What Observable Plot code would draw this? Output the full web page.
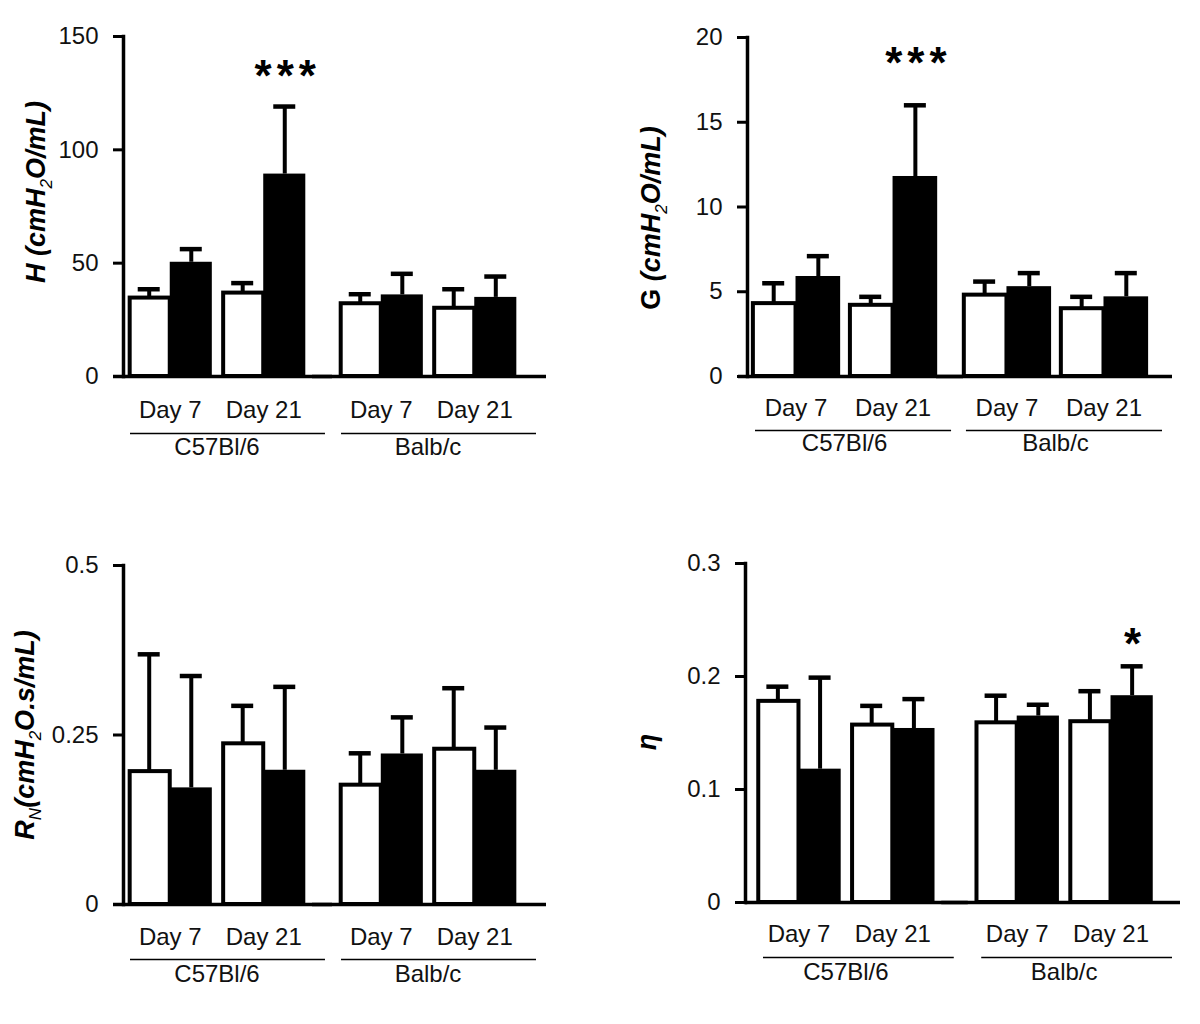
<!DOCTYPE html>
<html><head><meta charset="utf-8">
<script src="https://cdn.jsdelivr.net/npm/d3@7"></script>
<script src="https://cdn.jsdelivr.net/npm/@observablehq/plot@0.6"></script>
<style>
body{margin:0;background:#fff;}
#chart{position:relative;width:1200px;height:1024px;font-family:"Liberation Sans",Arial,sans-serif;}
.panel{position:absolute;}
</style></head><body><div id="chart"></div>
<script>
const strains = ["C57Bl/6", "Balb/c"];
const days = ["Day 7", "Day 21"];
// order of values: C57Bl/6 Day 7, C57Bl/6 Day 21, Balb/c Day 7, Balb/c Day 21
const hControl = [34.6, 36.8, 32.1, 30.1];
const hControlErr = [3.9, 4.4, 4.2, 8.4];
const hTreated = [50.4, 89.3, 36.0, 34.9];
const hTreatedErr = [5.8, 29.8, 9.3, 9.2];
const hSig = ["", "***", "", ""];
const hTicks = [0, 50, 100, 150];

const gControl = [4.3, 4.2, 4.8, 4.0];
const gControlErr = [1.2, 0.5, 0.8, 0.7];
const gTreated = [5.9, 11.8, 5.3, 4.7];
const gTreatedErr = [1.2, 4.2, 0.8, 1.4];
const gSig = ["", "***", "", ""];
const gTicks = [0, 5, 10, 15, 20];

const rControl = [0.196, 0.237, 0.176, 0.229];
const rControlErr = [0.173, 0.056, 0.047, 0.090];
const rTreated = [0.172, 0.198, 0.222, 0.198];
const rTreatedErr = [0.165, 0.123, 0.054, 0.063];
const rSig = ["", "", "", ""];
const rTicks = [0, 0.25, 0.5];

const eControl = [0.178, 0.157, 0.159, 0.160];
const eControlErr = [0.013, 0.017, 0.024, 0.027];
const eTreated = [0.118, 0.154, 0.165, 0.183];
const eTreatedErr = [0.081, 0.026, 0.010, 0.026];
const eSig = ["", "", "", "*"];
const eTicks = [0, 0.1, 0.2, 0.3];

const hLabel = [{t: "H (cmH", i: true}, {t: "2", i: true, sub: true}, {t: "O/mL)", i: true}];
const gLabel = [{t: "G ", i: false}, {t: "(cmH", i: true}, {t: "2", i: true, sub: true}, {t: "O/mL)", i: true}];
const rLabel = [{t: "R", i: true}, {t: "N", i: true, sub: true}, {t: "(cmH", i: true}, {t: "2", i: true, sub: true}, {t: "O.s/mL)", i: true}];
const eLabel = [{t: "η", i: true}];

function buildRows(c, ce, t, te, sig) {
  const out = [];
  let k = 0;
  for (const s of strains) for (const d of days) {
    out.push({strain: s, day: d, control: c[k], controlErr: ce[k], treated: t[k], treatedErr: te[k], sig: sig[k]});
    k++;
  }
  return out;
}

const panels = [
  {rows: buildRows(hControl, hControlErr, hTreated, hTreatedErr, hSig), ticks: hTicks, domain: [0, 150], label: hLabel,
   left: 0, top: 0, mL: 123, mR: 79, mT: 36, mB: 136, fxPad: 0.114, xIn: 0.1, xOut: 0.05,
   lx: 45, ly: 192, starDy: -30, underDy: 57, strainDy: 78, dayPad: 24, baseL: 10, baseR: 25, ulL: 7, ulR: -15},
  {rows: buildRows(gControl, gControlErr, gTreated, gTreatedErr, gSig), ticks: gTicks, domain: [0, 20], label: gLabel,
   left: 600, top: 0, mL: 147, mR: 48, mT: 37, mB: 136, fxPad: 0.08, xIn: 0.08, xOut: 0.04,
   lx: 60, ly: 218, starDy: -41, underDy: 54, strainDy: 74, dayPad: 22, baseL: 9, baseR: 20, ulL: 8, ulR: -10},
  {rows: buildRows(rControl, rControlErr, rTreated, rTreatedErr, rSig), ticks: rTicks, domain: [0, 0.5], label: rLabel,
   left: 0, top: 512, mL: 123, mR: 79, mT: 53, mB: 120, fxPad: 0.114, xIn: 0.1, xOut: 0.05,
   lx: 34, ly: 223, starDy: -30, underDy: 55, strainDy: 77, dayPad: 23, baseL: 10, baseR: 25, ulL: 7, ulR: -15},
  {rows: buildRows(eControl, eControlErr, eTreated, eTreatedErr, eSig), ticks: eTicks, domain: [0, 0.3], label: eLabel,
   left: 600, top: 512, mL: 145, mR: 36, mT: 51, mB: 122, fxPad: 0.08, xIn: 0.1, xOut: 0.12,
   lx: 56, ly: 230, starDy: -21, underDy: 55, strainDy: 77, dayPad: 22, baseL: 0, baseR: 16, ulL: 18, ulR: -8}
];

const chart = document.getElementById("chart");
const font = "'Liberation Sans', Arial, sans-serif";

for (const cfg of panels) {
  const rows = cfg.rows;
  const base = {
    width: 600, height: 512,
    marginLeft: cfg.mL, marginRight: cfg.mR, marginTop: cfg.mT, marginBottom: cfg.mB,
    fx: {domain: strains, paddingInner: cfg.fxPad, paddingOuter: 0, axis: null, round: false},
    x: {domain: days, paddingInner: cfg.xIn, paddingOuter: cfg.xOut, round: false},
    y: {domain: cfg.domain}
  };
  const probe = Plot.plot({...base, marks: [Plot.barY(rows, {fx: "strain", x: "day", y: "control"}), Plot.axisX({label: null}), Plot.axisY({label: null})]});
  const bw = probe.scale("x").bandwidth;
  const half = bw / 2, q = bw / 4, cap = 11;
  const cUp = d => d.control + d.controlErr;
  const tUp = d => d.treated + d.treatedErr;
  const plot = Plot.plot({
    ...base,
    style: {fontFamily: font, fontSize: "24px", color: "#000", background: "transparent"},
    marks: [
      Plot.ruleX(rows, {fx: "strain", x: "day", y1: "control", y2: cUp, dx: -q, stroke: "#000", strokeWidth: 4}),
      Plot.ruleX(rows, {fx: "strain", x: "day", y1: "treated", y2: tUp, dx: q, stroke: "#000", strokeWidth: 4}),
      Plot.barY(rows, {fx: "strain", x: "day", y: "treated", fill: "#000", insetLeft: half}),
      Plot.barY(rows, {fx: "strain", x: "day", y: "control", fill: "#fff", stroke: "#000", strokeWidth: 4, insetLeft: 2, insetRight: half}),
      Plot.tickY(rows, {fx: "strain", x: "day", y: cUp, insetLeft: q - cap, insetRight: half + q - cap, stroke: "#000", strokeWidth: 4.5}),
      Plot.tickY(rows, {fx: "strain", x: "day", y: tUp, insetLeft: half + q - cap, insetRight: q - cap, stroke: "#000", strokeWidth: 4.5}),
      Plot.text(rows.filter(d => d.sig), {fx: "strain", x: "day", y: tUp, dx: q + 3, dy: cfg.starDy, text: "sig", fontSize: 44, fontWeight: "bold", fill: "#000"}),
      Plot.axisY({ticks: cfg.ticks, tickFormat: d => String(d), tickSize: 10, tickPadding: 15, strokeWidth: 3, fontSize: 24, label: null, fill: "#111"}),
      Plot.axisX({tickSize: 0, tickPadding: cfg.dayPad, fontSize: 24, label: null, fill: "#111"}),
      Plot.frame({anchor: "left", facetAnchor: "left", stroke: "#000", strokeWidth: 3.5}),
      Plot.ruleY([strains[0]], {fx: d => d, y: 0, insetLeft: -cfg.baseL, insetRight: -22, stroke: "#000", strokeWidth: 3.5}),
      Plot.ruleY([strains[1]], {fx: d => d, y: 0, insetLeft: -22, insetRight: -cfg.baseR, stroke: "#000", strokeWidth: 3.5}),
      Plot.ruleY(strains, {fx: d => d, y: 0, dy: cfg.underDy, insetLeft: cfg.ulL, insetRight: cfg.ulR, stroke: "#000", strokeWidth: 1.5}),
      Plot.text(strains, {fx: d => d, text: d => d, frameAnchor: "bottom", dy: cfg.strainDy, fontSize: 24, fill: "#111"})
    ]
  });
  const svg = d3.select(plot);
  svg.selectAll("text").filter(function () { return /^\*+$/.test(this.textContent); }).attr("letter-spacing", 5);
  const t = svg.append("text")
    .attr("transform", `translate(${cfg.lx},${cfg.ly}) rotate(-90)`)
    .attr("text-anchor", "middle")
    .attr("font-family", font)
    .attr("font-size", 27)
    .attr("font-weight", "bold")
    .attr("fill", "#000");
  let shifted = false;
  for (const p of cfg.label) {
    const ts = t.append("tspan").text(p.t).attr("font-style", p.i ? "italic" : "normal");
    if (p.sub) { ts.attr("font-size", 17).attr("font-weight", "normal").attr("dy", 7); shifted = true; }
    else if (shifted) { ts.attr("dy", -7); shifted = false; }
  }
  const div = document.createElement("div");
  div.className = "panel";
  div.style.left = cfg.left + "px";
  div.style.top = cfg.top + "px";
  div.appendChild(plot);
  chart.appendChild(div);
}
</script>
</body></html>
